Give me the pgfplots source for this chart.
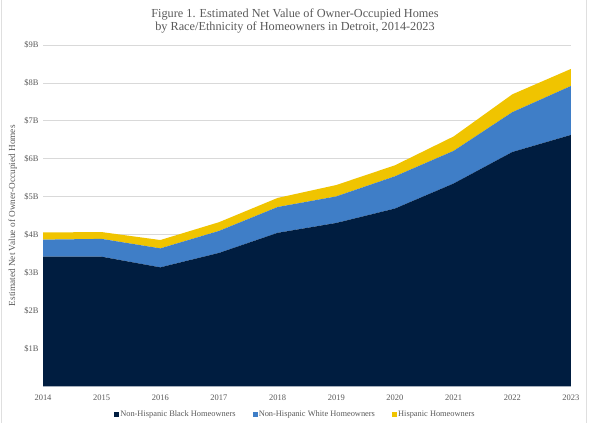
\documentclass[border=0pt]{standalone}
\usepackage{pgfplots}
\pgfplotsset{compat=1.18}
\usepackage{fontspec}
\setmainfont{Liberation Serif}

\definecolor{navy}{HTML}{001D40}
\definecolor{midblue}{HTML}{3F7EC7}
\definecolor{gold}{HTML}{F0C400}
\definecolor{txtgray}{HTML}{595959}
\definecolor{gridgray}{HTML}{D9D9D9}

\begin{document}
\begin{tikzpicture}[x=1bp,y=1bp]
  \begin{axis}[
      at={(43bp,36.5bp)}, anchor=south west,
      scale only axis,
      width=528bp, height=341.5bp,
      xmin=2014, xmax=2023,
      ymin=0, ymax=9,
      xtick={2014,...,2023},
      xticklabels={2014,2015,2016,2017,2018,2019,2020,2021,2022,2023},
      ytick={1,...,9},
      yticklabels={\$1B,\$2B,\$3B,\$4B,\$5B,\$6B,\$7B,\$8B,\$9B},
      ymajorgrids,
      grid style={gridgray, line width=0.8bp},
      axis line style={draw=none},
      major tick length=0pt,
      tick label style={font=\fontsize{8.5}{9}\selectfont, text=txtgray},
      yticklabel style={xshift=-1bp},
      xticklabel style={yshift=-4.5bp},
      ylabel={Estimated Net Value of Owner-Occupied Homes},
      ylabel style={at={(axis description cs:-0.057,0.5)}, anchor=center,
                    font=\fontsize{9.3}{10}\selectfont, text=txtgray},
      stack plots=y,
      legend columns=3,
      legend style={at={(axis description cs:0.477,-0.083)}, anchor=center,
                    draw=none, fill=none,
                    /tikz/every even column/.append style={column sep=16bp},
                    font=\fontsize{8.4}{9}\selectfont, text=txtgray,
                    nodes={inner sep=1bp}},
      legend image code/.code={\fill[#1] (0bp,-2.6bp) rectangle (5.2bp,2.6bp);},
    ]
    % values in billions of dollars
    \addplot[fill=navy, draw=none] coordinates {
      (2014,3.42) (2015,3.42) (2016,3.14) (2017,3.52) (2018,4.05)
      (2019,4.31) (2020,4.69) (2021,5.35) (2022,6.18) (2023,6.63)
    } \closedcycle;
    \addlegendentry{Non-Hispanic Black Homeowners}

    \addplot[fill=midblue, draw=none] coordinates {
      (2014,0.45) (2015,0.47) (2016,0.50) (2017,0.58) (2018,0.68)
      (2019,0.70) (2020,0.85) (2021,0.86) (2022,1.05) (2023,1.29)
    } \closedcycle;
    \addlegendentry{Non-Hispanic White Homeowners}

    \addplot[fill=gold, draw=none] coordinates {
      (2014,0.19) (2015,0.18) (2016,0.22) (2017,0.23) (2018,0.24)
      (2019,0.30) (2020,0.29) (2021,0.38) (2022,0.47) (2023,0.45)
    } \closedcycle;
    \addlegendentry{Hispanic Homeowners}
  \end{axis}

  \node[align=center, text=txtgray, font=\fontsize{12.3}{13.4}\selectfont]
    at (295bp,402bp)
    {Figure 1. Estimated Net Value of Owner-Occupied Homes\\
     by Race/Ethnicity of Homeowners in Detroit, 2014-2023};

  \draw[gray!25, line width=0.8bp] (1bp,0bp) -- (1bp,423bp);
  \draw[gray!25, line width=0.8bp] (586bp,0bp) -- (586bp,423bp);

  \pgfresetboundingbox
  \useasboundingbox (0bp,0bp) rectangle (590bp,423bp);
\end{tikzpicture}
\end{document}
